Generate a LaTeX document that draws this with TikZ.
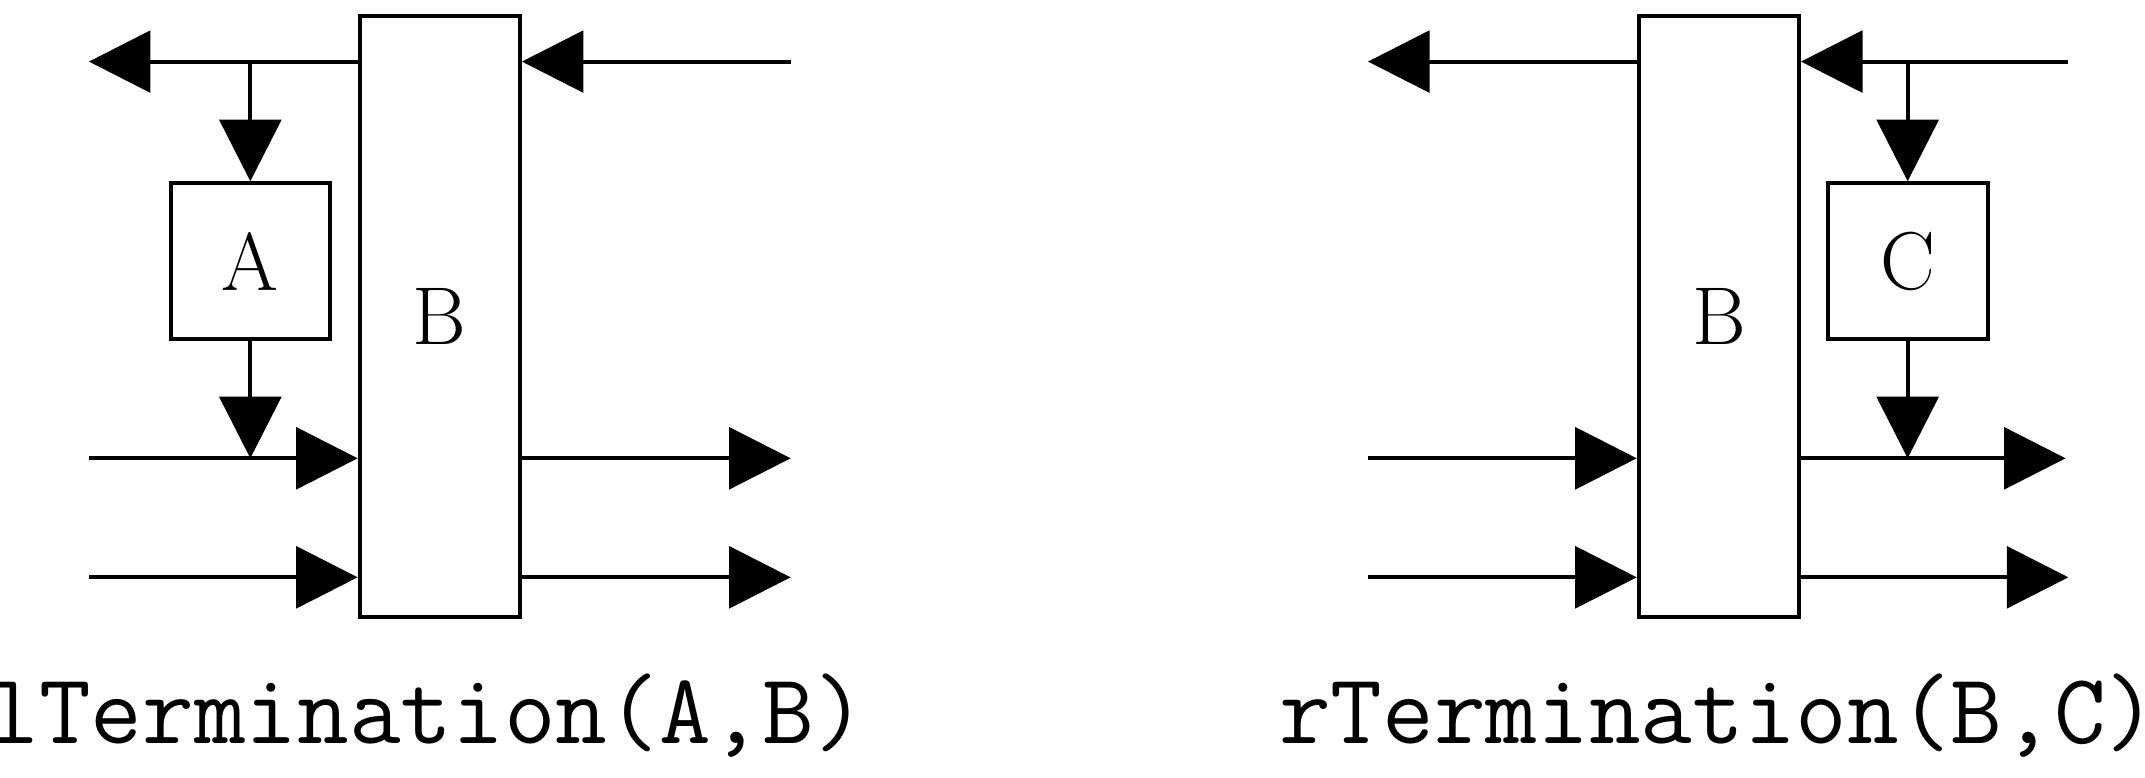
\documentclass[tikz,border=0pt]{standalone}
\usetikzlibrary{arrows.meta}
\begin{document}
\begin{tikzpicture}[x=0.3pt,y=-0.3pt,line width=0.9pt,
  arr/.style={-{Triangle[length=13.5pt,width=13.5pt]}},
  blk/.style={draw,inner sep=0pt,font=\fontsize{18}{21}\selectfont},
  lbl/.style={font=\ttfamily\fontsize{22}{25}\selectfont}]
\useasboundingbox (0,0) rectangle (1568,568);
% left
\node[blk,minimum width=117*0.3pt,minimum height=439*0.3pt] (B1) at (321.5,231.5) {B};
\node[blk,minimum width=116*0.3pt,minimum height=114*0.3pt] (A) at (183,191) {A};
\coordinate (l1) at (65,45); \coordinate (l2) at (578,45);
\coordinate (j1) at (183,45); \coordinate (j2) at (183,335);
\coordinate (i1) at (65,335); \coordinate (i2) at (65,422);
\coordinate (o1) at (578,335); \coordinate (o2) at (578,422);
\draw[arr] (B1.west|-l1) -- (l1);
\draw[arr] (l2) -- (B1.east|-l2);
\draw[arr] (j1) -- (A.north);
\draw[arr] (A.south) -- (j2);
\draw[arr] (i1) -- (B1.west|-i1);
\draw[arr] (i2) -- (B1.west|-i2);
\draw[arr] (B1.east|-o1) -- (o1);
\draw[arr] (B1.east|-o2) -- (o2);
\node[lbl] (t1) at (312,523) {lTermination(A,B)};
% right
\node[blk,minimum width=117*0.3pt,minimum height=439*0.3pt] (B2) at (1256.5,231.5) {B};
\node[blk,minimum width=117*0.3pt,minimum height=114*0.3pt] (C) at (1394.5,191) {C};
\coordinate (r1) at (1000,45); \coordinate (r2) at (1512,45);
\coordinate (k1) at (1394.5,45); \coordinate (k2) at (1394.5,335);
\coordinate (ri1) at (1000,335); \coordinate (ri2) at (1000,422);
\coordinate (ro1) at (1510,335); \coordinate (ro2) at (1512,422);
\draw[arr] (B2.west|-r1) -- (r1);
\draw[arr] (r2) -- (B2.east|-r2);
\draw[arr] (k1) -- (C.north);
\draw[arr] (C.south) -- (k2);
\draw[arr] (ri1) -- (B2.west|-ri1);
\draw[arr] (ri2) -- (B2.west|-ri2);
\draw[arr] (B2.east|-ro1) -- (ro1);
\draw[arr] (B2.east|-ro2) -- (ro2);
\node[lbl] (t2) at (1256,523) {rTermination(B,C)};
\end{tikzpicture}
\end{document}
